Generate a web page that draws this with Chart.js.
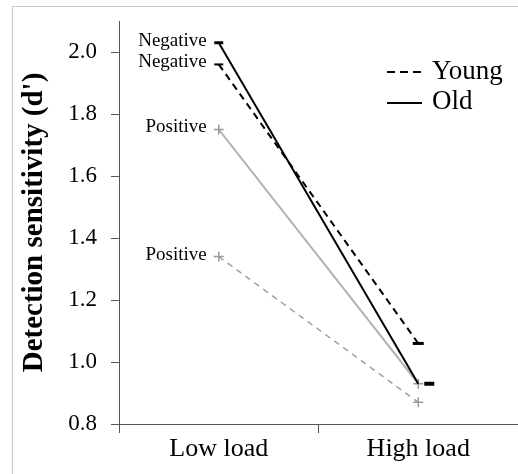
<!DOCTYPE html>
<html><head><meta charset="utf-8">
<script src="https://cdn.jsdelivr.net/npm/chart.js@4/dist/chart.umd.min.js"></script>
<style>html,body{margin:0;padding:0;background:#fff;}#wrap{width:518px;height:474px;position:relative;}</style>
</head><body><div id="wrap"><canvas id="c" width="518" height="474"></canvas></div>
<script>
const categories = ['Low load', 'High load'];
const oldNegative = [2.03, 0.93];
const youngNegative = [1.96, 1.06];
const oldPositive = [1.75, 0.93];
const youngPositive = [1.34, 0.87];
const yTicks = [0.8, 1.0, 1.2, 1.4, 1.6, 1.8, 2.0];
const pointLabels = ['Negative', 'Negative', 'Positive', 'Positive'];
const legendLabels = ['Young', 'Old'];
const yTitle = "Detection sensitivity (d')";

const FONT = "'Liberation Serif', 'Times New Roman', serif";

function dashMarker(w, h, offset, color) {
  const W = Math.ceil((Math.abs(offset) + w / 2) * 2) + 2;
  const H = Math.ceil(h) + 2;
  const c = document.createElement('canvas');
  c.width = W; c.height = H;
  const x = c.getContext('2d');
  x.fillStyle = color;
  x.fillRect(W / 2 + offset - w / 2, (H - h) / 2, w, h);
  return c;
}

const framePlugin = {
  id: 'frame',
  beforeDraw(chart) {
    const ctx = chart.ctx;
    ctx.save();
    ctx.strokeStyle = '#c8c8c8';
    ctx.lineWidth = 1;
    ctx.beginPath();
    ctx.moveTo(12.5, chart.height);
    ctx.lineTo(12.5, 6.5);
    ctx.lineTo(chart.width, 6.5);
    ctx.stroke();
    ctx.restore();
  }
};

const labelPlugin = {
  id: 'pointText',
  afterDatasetsDraw(chart) {
    const ctx = chart.ctx;
    ctx.save();
    ctx.font = '19px ' + FONT;
    ctx.fillStyle = '#000';
    ctx.textAlign = 'right';
    ctx.textBaseline = 'middle';
    chart.data.datasets.forEach((ds, i) => {
      const p = chart.getDatasetMeta(i).data[0];
      ctx.fillText(pointLabels[i], p.x - 12, p.y - 2);
    });
    // legend
    const a = chart.chartArea;
    const lx = a.right - 131, ly = 72;
    ctx.textAlign = 'left';
    ctx.font = '27px ' + FONT;
    ctx.strokeStyle = '#000';
    ctx.lineWidth = 2;
    ctx.setLineDash([8, 5]);
    ctx.beginPath(); ctx.moveTo(lx, ly); ctx.lineTo(lx + 35, ly); ctx.stroke();
    ctx.setLineDash([]);
    ctx.beginPath(); ctx.moveTo(lx, ly + 31); ctx.lineTo(lx + 35, ly + 31); ctx.stroke();
    ctx.fillText(legendLabels[0], lx + 45, ly);
    ctx.fillText(legendLabels[1], lx + 45, ly + 30);
    ctx.restore();
  }
};

new Chart(document.getElementById('c'), {
  type: 'line',
  data: {
    labels: categories,
    datasets: [
      { data: oldNegative, borderColor: '#000', borderWidth: 2, fill: false,
        pointStyle: [dashMarker(9, 3, 0, '#000'), dashMarker(10, 4, 11, '#000')], pointRadius: 5 },
      { data: youngNegative, borderColor: '#000', borderWidth: 2, borderDash: [7, 5], fill: false,
        pointStyle: [dashMarker(9, 2, 0, '#000'), dashMarker(11, 3, 0, '#000')], pointRadius: 5 },
      { data: oldPositive, borderColor: '#b0b0b0', borderWidth: 2, fill: false,
        pointStyle: 'cross', pointRadius: 5, pointBorderColor: '#999', pointBorderWidth: 1.5, pointBackgroundColor: '#999' },
      { data: youngPositive, borderColor: '#a0a0a0', borderWidth: 1.5, borderDash: [6, 5], fill: false,
        pointStyle: 'cross', pointRadius: 5, pointBorderColor: '#999', pointBorderWidth: 1.5, pointBackgroundColor: '#999' }
    ]
  },
  options: {
    responsive: false,
    animation: false,
    devicePixelRatio: 1,
    layout: { autoPadding: false, padding: { top: 21, right: 0, bottom: 0, left: 0 } },
    plugins: { legend: { display: false }, tooltip: { enabled: false } },
    scales: {
      x: {
        type: 'category',
        offset: true,
        grid: { offset: true, drawOnChartArea: false, tickLength: 9, color: '#555' },
        border: { color: '#555', width: 1 },
        ticks: { color: '#000', font: { family: FONT, size: 26 }, padding: 1, maxRotation: 0 },
        afterFit: s => { s.height = 50; s.paddingLeft = 0; s.paddingRight = 0; }
      },
      y: {
        min: 0.8, max: 2.1,
        afterBuildTicks: s => { s.ticks = yTicks.map(v => ({ value: v })); },
        grid: { drawOnChartArea: false, tickLength: 8, color: '#555' },
        border: { color: '#555', width: 1 },
        ticks: { color: '#000', font: { family: FONT, size: 23 }, padding: 14, callback: v => Number(v).toFixed(1) },
        title: { display: true, text: yTitle, color: '#000', font: { family: FONT, size: 29, weight: 'bold' }, padding: { top: 17, bottom: 0 } },
        afterFit: s => { s.width = 119; s.paddingTop = 0; s.paddingBottom = 0; }
      }
    }
  },
  plugins: [framePlugin, labelPlugin]
});
</script>
</body></html>
